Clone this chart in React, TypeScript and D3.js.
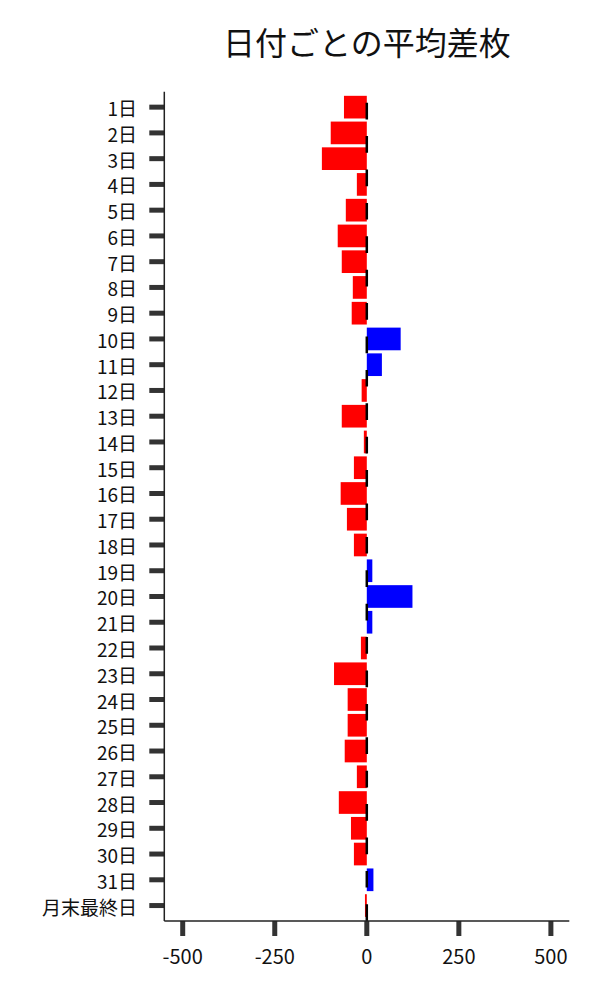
import React from "react";
import * as d3 from "d3";

const categories: string[] = [
  "1日", "2日", "3日", "4日", "5日", "6日", "7日", "8日", "9日", "10日",
  "11日", "12日", "13日", "14日", "15日", "16日", "17日", "18日", "19日", "20日",
  "21日", "22日", "23日", "24日", "25日", "26日", "27日", "28日", "29日", "30日",
  "31日", "月末最終日",
];

const values: number[] = [
  -62, -98, -122, -27, -57, -79, -68, -38, -41, 92,
  41, -14, -68, -8, -35, -71, -54, -35, 15, 124,
  15, -16, -89, -52, -52, -60, -27, -76, -43, -35,
  18, -5,
];

const xTicks: number[] = [-500, -250, 0, 250, 500];

const title = "日付ごとの平均差枚";

const W = 600;
const H = 1000;
const left = 164.3;
const right = 569.3;
const top = 91.7;
const bottom = 921;
const FONT = "'Noto Sans CJK JP', 'Noto Sans', sans-serif";

export default function App() {
  const x = d3.scaleLinear().domain([-550, 550]).range([left, right]);
  const y = d3.scalePoint<string>().domain(categories).range([top, bottom]).padding(0.6);
  const barH = y.step() * 0.88;
  const x0 = x(0);

  return (
    <svg
      width={W}
      height={H}
      style={{ position: "absolute", left: 0, top: 0, display: "block", background: "#fff" }}
      fontFamily={FONT}
    >
      <text x={(left + right) / 2} y={55} textAnchor="middle" fontSize={32} fill="#111">
        {title}
      </text>

      {categories.map((c, i) => {
        const v = values[i];
        const yc = y(c) as number;
        return (
          <rect
            key={c}
            x={Math.min(x(v), x0)}
            y={yc - barH / 2}
            width={Math.abs(x(v) - x0)}
            height={barH}
            fill={v >= 0 ? "#0000ff" : "#ff0000"}
          />
        );
      })}

      <line
        x1={x0}
        y1={bottom}
        x2={x0}
        y2={top}
        stroke="#000"
        strokeWidth={2.5}
        strokeDasharray="16.7 16.7"
      />

      {categories.map((c) => {
        const yc = y(c) as number;
        return (
          <g key={"yt" + c}>
            <line x1={left - 15} x2={left} y1={yc} y2={yc} stroke="#333" strokeWidth={5} />
            <text x={137} y={yc + 9} textAnchor="end" fontSize={19} fill="#111">
              {c}
            </text>
          </g>
        );
      })}

      {xTicks.map((t) => (
        <g key={"xt" + t}>
          <line x1={x(t)} x2={x(t)} y1={bottom} y2={bottom + 15} stroke="#333" strokeWidth={5} />
          <text x={x(t)} y={bottom + 43} textAnchor="middle" fontSize={20} fill="#111">
            {t}
          </text>
        </g>
      ))}

      <line x1={left} x2={left} y1={top} y2={bottom} stroke="#222" strokeWidth={1.5} />
      <line x1={left} x2={right} y1={bottom} y2={bottom} stroke="#222" strokeWidth={1.5} />
    </svg>
  );
}
